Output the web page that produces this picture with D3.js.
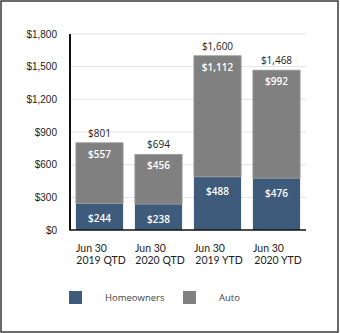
<!DOCTYPE html>
<html><head><meta charset="utf-8">
<script src="https://cdn.jsdelivr.net/npm/d3@7"></script>
<style>
html,body{margin:0;padding:0;background:#fff;}
svg{display:block;font-family:"Open Sans","Noto Sans",sans-serif;}
</style></head>
<body>
<svg id="c" width="340" height="333"></svg>
<script>
const categories = ["Jun 30|2019 QTD","Jun 30|2020 QTD","Jun 30|2019 YTD","Jun 30|2020 YTD"];
const homeowners = [244, 238, 488, 476];
const auto = [557, 456, 1112, 992];
const totals = [801, 694, 1600, 1468];
const yTicks = [0, 300, 600, 900, 1200, 1500, 1800];
const seriesNames = ["Homeowners", "Auto"];
const colors = ["#3f5b7b", "#808080"];

const svg = d3.select("#c");
svg.append("rect").attr("x",1).attr("y",1).attr("width",337).attr("height",331)
  .attr("fill","#fff").attr("stroke","#3a3a3a").attr("stroke-width",1.5);

const L=70, R=306, T=34, B=230;
const x = d3.scaleBand().domain(categories).range([L,R]).paddingInner(0.2).paddingOuter(0.1);
const y = d3.scaleLinear().domain([0,1800]).range([B,T]);
const fmt = v => "$" + d3.format(",")(v);

// grid
svg.append("g").selectAll("line").data(yTicks.filter(d=>d>0)).join("line")
  .attr("x1",L).attr("x2",R).attr("y1",d=>y(d)).attr("y2",d=>y(d))
  .attr("stroke","#e4e4e4").attr("stroke-width",1);

// y axis labels
const ya = svg.append("g").attr("transform",`translate(${L},0)`)
  .call(d3.axisLeft(y).tickValues(yTicks).tickFormat(fmt).tickSize(0).tickPadding(13));
ya.select(".domain").remove();
ya.selectAll("text").attr("font-size",10).attr("fill","#222").style("font-family","inherit");

// stacked bars
const stack = d3.stack().keys([0,1])(categories.map((c,i)=>({0:homeowners[i],1:auto[i]})));
stack.forEach((s,si)=>{
  svg.append("g").selectAll("rect").data(s).join("rect")
    .attr("x",(d,i)=>x(categories[i])).attr("width",x.bandwidth())
    .attr("y",d=>y(d[1])).attr("height",d=>y(d[0])-y(d[1]))
    .attr("fill",colors[si]).attr("stroke","#9a9a9a").attr("stroke-width",si===1?0.8:0);
});

// axis lines
svg.append("line").attr("x1",L).attr("x2",L).attr("y1",T).attr("y2",B+0.5).attr("stroke","#111").attr("stroke-width",2);
svg.append("line").attr("x1",L).attr("x2",R).attr("y1",B).attr("y2",B).attr("stroke","#111").attr("stroke-width",1.5);

// value labels
const cx = i => x(categories[i]) + x.bandwidth()/2;
svg.append("g").selectAll("text").data(homeowners).join("text")
  .attr("x",(d,i)=>cx(i)).attr("y",d=>y(d)+18.5).attr("text-anchor","middle")
  .attr("font-size",10).attr("font-weight",600).attr("fill","#fff").text(fmt);
svg.append("g").selectAll("text").data(auto).join("text")
  .attr("x",(d,i)=>cx(i)).attr("y",(d,i)=>y(totals[i])+15).attr("text-anchor","middle")
  .attr("font-size",10).attr("font-weight",600).attr("fill","#fff").text(fmt);
svg.append("g").selectAll("text").data(totals).join("text")
  .attr("x",(d,i)=>cx(i)).attr("y",d=>y(d)-6).attr("text-anchor","middle")
  .attr("font-size",10).attr("fill","#222").text(fmt);

// x labels (two lines each)
const xg = svg.append("g").style("font-family","Lato, 'Open Sans', sans-serif");
xg.selectAll("text.l1").data(categories).join("text").attr("class","l1")
  .attr("text-anchor","middle").attr("font-size",10.5).attr("fill","#222")
  .attr("x",(d,i)=>cx(i)-8).attr("y",251.5).text(d=>d.split("|")[0]);
xg.selectAll("text.l2").data(categories).join("text").attr("class","l2")
  .attr("text-anchor","middle").attr("font-size",10.5).attr("fill","#222")
  .attr("x",(d,i)=>cx(i)+1.5).attr("y",264).text(d=>d.split("|")[1]);

// legend
const legX = [69, 183];
seriesNames.forEach((n,i)=>{
  svg.append("rect").attr("x",legX[i]).attr("y",291).attr("width",13).attr("height",13).attr("fill",colors[i]);
  svg.append("text").attr("x",legX[i]+36).attr("y",301).attr("font-size",9.5).attr("fill","#444").text(n);
});
</script>
</body></html>
